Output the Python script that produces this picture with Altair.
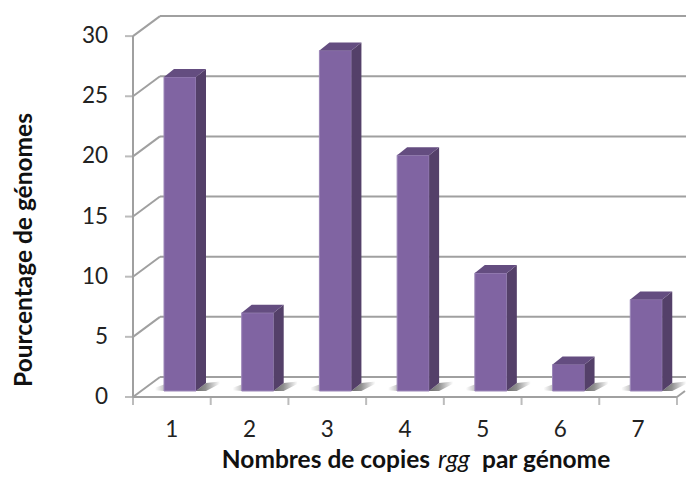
import altair as alt
import pandas as pd

categories = ["1", "2", "3", "4", "5", "6", "7"]
values = [26.1, 6.5, 28.3, 19.6, 9.8, 2.2, 7.6]
y_ticks = [0, 5, 10, 15, 20, 25, 30]
x_ticks = [0, 1, 2, 3, 4, 5, 6, 7]

PX_X = 77.71
PX_Y = 12.03
W, H = 553, 381
WALL_DX, WALL_DY = 27 / PX_X, 20 / PX_Y
BAR_START, BAR_W = 31 / PX_X, 32 / PX_X
BAR_DX, BAR_DY = 10 / PX_X, 8 / PX_Y
BASE = 6 / PX_Y
X_END = (W - 1) / PX_X

x_scale = alt.Scale(domain=[0, W / PX_X], nice=False, zero=False)
y_scale = alt.Scale(domain=[0, H / PX_Y], nice=False, zero=False)
GRID = "#a0a0a0"
FONT = "Lato"


def X(f="x", **kw):
    return alt.X(f, type="quantitative", scale=x_scale, axis=None, **kw)


def Y(f="y", **kw):
    return alt.Y(f, type="quantitative", scale=y_scale, axis=None, stack=None, **kw)


# walls
grid_rows, diag_rows = [], []
for v in y_ticks:
    grid_rows.append({"x": WALL_DX, "x2": W / PX_X, "y": v + WALL_DY})
    diag_rows.append({"x": 0, "x2": WALL_DX, "y": v, "y2": v + WALL_DY})
frac = (X_END - 7) / WALL_DX
diag_rows.append({"x": 7, "x2": X_END, "y": 0, "y2": WALL_DY * frac})

grid = alt.Chart(pd.DataFrame(grid_rows)).mark_rule(color=GRID, strokeWidth=2).encode(
    x=X(), x2="x2:Q", y=Y()
)
diag = alt.Chart(pd.DataFrame(diag_rows)).mark_rule(color=GRID, strokeWidth=2).encode(
    x=X(), x2="x2:Q", y=Y(), y2="y2:Q"
)
y_line = alt.Chart(pd.DataFrame({"x": [0], "y": [0], "y2": [30]})).mark_rule(
    color=GRID, strokeWidth=2
).encode(x=X(), y=Y(), y2="y2:Q")
x_line = alt.Chart(pd.DataFrame({"x": [0], "x2": [7], "y": [0]})).mark_rule(
    color=GRID, strokeWidth=2
).encode(x=X(), x2="x2:Q", y=Y())
y_tick_marks = alt.Chart(pd.DataFrame({"x": [0] * 7, "y": y_ticks})).mark_tick(
    color=GRID, thickness=2, size=8, orient="horizontal", xOffset=-4
).encode(x=X(), y=Y())
x_tick_marks = alt.Chart(pd.DataFrame({"x": x_ticks, "y": [0] * 8})).mark_tick(
    color=GRID, thickness=2, size=8, orient="vertical", yOffset=4
).encode(x=X(), y=Y())

y_labels = alt.Chart(pd.DataFrame({"x": [0] * 7, "y": y_ticks, "t": [str(v) for v in y_ticks]})).mark_text(
    align="right", baseline="middle", font=FONT, fontSize=22.5, color="#222222", dx=-25
).encode(x=X(), y=Y(), text="t:N")
x_labels = alt.Chart(pd.DataFrame({"x": [i + 0.5 for i in range(7)], "y": [0] * 7, "t": categories})).mark_text(
    align="center", baseline="middle", font=FONT, fontSize=22.5, color="#222222", dy=33
).encode(x=X(), y=Y(), text="t:N")

# bars
front, side, top, shadow, shadow_left = [], [], [], [], []
for i, v in enumerate(values):
    x0 = i + BAR_START
    x1 = x0 + BAR_W
    t = BASE + v
    front.append({"x": x0, "x2": x1, "y": BASE, "y2": t})
    side.append({"b": i, "x": x1, "y": BASE, "y2": t})
    side.append({"b": i, "x": x1 + BAR_DX, "y": BASE + BAR_DY, "y2": t + BAR_DY})
    top.append({"b": i, "y": t, "x": x0, "x2": x1})
    top.append({"b": i, "y": t + BAR_DY, "x": x0 + BAR_DX, "x2": x1 + BAR_DX})
    shadow.append({"b": i, "x": x1, "y": BASE, "y2": BASE})
    shadow.append({"b": i, "x": x1 + BAR_DX, "y": BASE, "y2": BASE + BAR_DY})
    shadow.append({"b": i, "x": x1 + 2.4 * BAR_DX, "y": BASE + 0.9 * BAR_DY, "y2": BASE + BAR_DY * 1.2})
    shadow_left.append({"b": i, "x": x0 - 0.9 * BAR_DX, "y": BASE + 0.1 * BAR_DY, "y2": BASE + 0.4 * BAR_DY})
    shadow_left.append({"b": i, "x": x0, "y": BASE, "y2": BASE + 0.8 * BAR_DY})

shadow_layer = alt.Chart(pd.DataFrame(shadow)).mark_area(
    color=alt.Gradient(
        gradient="linear", x1=0, x2=1, y1=0, y2=0,
        stops=[alt.GradientStop(color="#6e6e6e", offset=0),
               alt.GradientStop(color="#8f8f8f", offset=0.4),
               alt.GradientStop(color="#ffffff", offset=1)],
    ),
).encode(x=X(), y=Y(), y2="y2:Q", detail="b:N")
shadow_left_layer = alt.Chart(pd.DataFrame(shadow_left)).mark_area(
    color=alt.Gradient(
        gradient="linear", x1=0, x2=1, y1=0, y2=0,
        stops=[alt.GradientStop(color="#ffffff", offset=0), alt.GradientStop(color="#c4c4c4", offset=1)],
    ),
).encode(x=X(), y=Y(), y2="y2:Q", detail="b:N")
front_layer = alt.Chart(pd.DataFrame(front)).mark_rect(
    color="#8064a2", stroke="#9b86b8", strokeWidth=1
).encode(x=X(), x2="x2:Q", y=Y(), y2="y2:Q")
side_layer = alt.Chart(pd.DataFrame(side)).mark_area(color="#544069").encode(
    x=X(), y=Y(), y2="y2:Q", detail="b:N"
)
top_layer = alt.Chart(pd.DataFrame(top)).mark_area(color="#644d80", orient="horizontal").encode(
    y=Y(), x=X(), x2="x2:Q", detail="b:N"
)

# titles
TS = 24.5
TITLE_Y = 445
y_title = alt.Chart(pd.DataFrame({"t": ["Pourcentage de génomes"]})).mark_text(
    angle=270, font=FONT, fontSize=TS, fontWeight="bold", color="#111111", align="center", baseline="middle"
).encode(x=alt.value(-108), y=alt.value(234), text="t:N")
t_a = alt.Chart(pd.DataFrame({"t": ["Nombres de copies"]})).mark_text(
    font=FONT, fontSize=TS, fontWeight="bold", color="#111111", align="right", baseline="middle"
).encode(x=alt.value(297), y=alt.value(TITLE_Y), text="t:N")
t_b = alt.Chart(pd.DataFrame({"t": ["rgg"]})).mark_text(
    font=FONT, fontSize=TS, fontWeight="normal", fontStyle="italic", color="#111111", align="left", baseline="middle"
).encode(x=alt.value(305), y=alt.value(TITLE_Y), text="t:N")
t_c = alt.Chart(pd.DataFrame({"t": ["par génome"]})).mark_text(
    font=FONT, fontSize=TS, fontWeight="bold", color="#111111", align="left", baseline="middle"
).encode(x=alt.value(349), y=alt.value(TITLE_Y), text="t:N")

chart = alt.layer(
    grid, diag, y_line, x_line, y_tick_marks, x_tick_marks, y_labels, x_labels,
    shadow_left_layer, shadow_layer, front_layer, side_layer, top_layer, y_title, t_a, t_b, t_c,
).properties(
    width=W, height=H, autosize="none",
    padding={"left": 125, "top": 8, "right": 0, "bottom": 75},
).configure_view(stroke=None)

chart.save("out.html", embed_options={"renderer": "svg", "actions": False})
